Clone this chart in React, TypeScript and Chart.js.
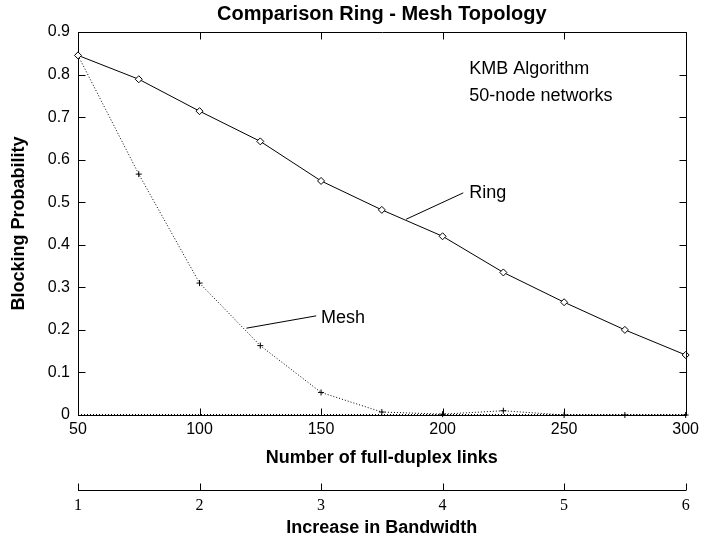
import React, { useEffect, useRef } from 'react';
import { Chart, registerables } from 'chart.js';

Chart.register(...registerables);

// ---- data ----
const links = [50, 75, 100, 125, 150, 175, 200, 225, 250, 275, 300];
const ringValues = [0.845, 0.789, 0.714, 0.643, 0.55, 0.482, 0.42, 0.335, 0.265, 0.2, 0.141];
const meshValues = [0.845, 0.566, 0.31, 0.163, 0.053, 0.007, 0.002, 0.01, 0, 0, 0];
const bandwidthRange = [1, 6];
const linksRange = [50, 300];
const probRange = [0, 0.9];

const titleText = 'Comparison Ring - Mesh Topology';
const xTitle = 'Number of full-duplex links';
const x2Title = 'Increase in Bandwidth';
const yTitle = 'Blocking Probability';
const noteLines = ['KMB Algorithm', '50-node networks'];

// annotation anchors in data units
const notePos = { x: 211, y: [0.813, 0.75] };
const ringLabel = { text: 'Ring', from: [185, 0.46], to: [208.5, 0.522], at: [211, 0.522] };
const meshLabel = { text: 'Mesh', from: [119.3, 0.204], to: [148, 0.233], at: [150, 0.228] };

const SANS = '"Liberation Sans", Arial, Helvetica, sans-serif';
const SERIF = '"Liberation Serif", "Times New Roman", serif';

const framePlugin = {
  id: 'framePlugin',
  afterDraw(chart: any) {
    const { ctx, chartArea } = chart;
    const { left, right, top, bottom } = chartArea;
    const x = chart.scales.x;
    const y = chart.scales.y;
    const x2 = chart.scales.x2;
    const r = (v: number) => Math.round(v) + 0.5;
    const T = 7;
    ctx.save();
    ctx.strokeStyle = '#000';
    ctx.lineWidth = 1;
    ctx.setLineDash([]);
    // frame
    ctx.beginPath();
    ctx.moveTo(r(left), r(top));
    ctx.lineTo(r(right), r(top));
    ctx.lineTo(r(right), r(bottom));
    ctx.stroke();
    // ticks pointing inward
    ctx.beginPath();
    x.ticks.forEach((t: any) => {
      const px = r(x.getPixelForValue(t.value));
      ctx.moveTo(px, r(bottom));
      ctx.lineTo(px, r(bottom) - T);
      ctx.moveTo(px, r(top));
      ctx.lineTo(px, r(top) + T);
    });
    y.ticks.forEach((t: any) => {
      const py = r(y.getPixelForValue(t.value));
      ctx.moveTo(r(left), py);
      ctx.lineTo(r(left) + T, py);
      ctx.moveTo(r(right), py);
      ctx.lineTo(r(right) - T, py);
    });
    x2.ticks.forEach((t: any) => {
      const px = r(x2.getPixelForValue(t.value));
      ctx.moveTo(px, r(x2.top));
      ctx.lineTo(px, r(x2.top) - T);
    });
    ctx.stroke();
    // dotted zero line overlay
    ctx.beginPath();
    ctx.setLineDash([1, 2]);
    const y0 = r(y.getPixelForValue(0)) - 1;
    ctx.moveTo(left, y0);
    ctx.lineTo(right, y0);
    ctx.stroke();
    ctx.setLineDash([]);

    // annotations
    ctx.fillStyle = '#000';
    ctx.font = '18px ' + SANS;
    ctx.textAlign = 'left';
    ctx.textBaseline = 'middle';
    noteLines.forEach((line, i) => {
      ctx.fillText(line, x.getPixelForValue(notePos.x), y.getPixelForValue(notePos.y[i]));
    });
    [ringLabel, meshLabel].forEach((lab) => {
      ctx.beginPath();
      ctx.moveTo(x.getPixelForValue(lab.from[0]), y.getPixelForValue(lab.from[1]));
      ctx.lineTo(x.getPixelForValue(lab.to[0]), y.getPixelForValue(lab.to[1]));
      ctx.stroke();
      ctx.fillText(lab.text, x.getPixelForValue(lab.at[0]), y.getPixelForValue(lab.at[1]));
    });
    ctx.restore();
  },
};

export default function App() {
  const canvasRef = useRef<HTMLCanvasElement | null>(null);

  useEffect(() => {
    document.body.style.margin = '0';
    const canvas = canvasRef.current;
    if (!canvas) return;
    const chart = new Chart(canvas, {
      type: 'line',
      data: {
        datasets: [
          {
            label: 'Ring',
            data: links.map((l, i) => ({ x: l, y: ringValues[i] })),
            borderColor: '#000',
            borderWidth: 1,
            pointStyle: 'rectRot',
            pointRadius: 3.5,
            pointBorderColor: '#000',
            pointBackgroundColor: '#fff',
            pointBorderWidth: 1,
            clip: false as any,
            xAxisID: 'x',
          },
          {
            label: 'Mesh',
            data: links.map((l, i) => ({ x: l, y: meshValues[i] })),
            borderColor: '#000',
            borderWidth: 1,
            borderDash: [1, 2],
            pointStyle: 'cross',
            pointRadius: 3,
            pointBorderColor: '#000',
            pointBorderWidth: 1,
            clip: false as any,
            xAxisID: 'x',
          },
        ],
      },
      options: {
        animation: false,
        responsive: false,
        events: [],
        layout: { padding: { left: 0, right: 16, top: 0, bottom: 0 } },
        plugins: {
          legend: { display: false },
          tooltip: { enabled: false },
          title: {
            display: true,
            text: titleText,
            color: '#000',
            fullSize: false,
            font: { family: SANS, size: 20, weight: 'bold' },
            padding: { top: 2, bottom: 6 },
          },
        },
        scales: {
          x: {
            type: 'linear',
            position: 'bottom',
            min: linksRange[0],
            max: linksRange[1],
            ticks: { stepSize: 50, color: '#000', font: { family: SANS, size: 16 }, padding: 5, maxRotation: 0 },
            grid: { drawOnChartArea: false, drawTicks: false },
            border: { display: true, color: '#000', width: 1 },
            title: {
              display: true,
              text: xTitle,
              color: '#000',
              font: { family: SANS, size: 18, weight: 'bold' },
              padding: { top: 0, bottom: 21.2 },
            },
            afterFit: (s: any) => { s.height = 75; },
          },
          x2: {
            type: 'linear',
            position: 'bottom',
            min: bandwidthRange[0],
            max: bandwidthRange[1],
            ticks: { stepSize: 1, color: '#000', font: { family: SERIF, size: 16 }, padding: 6.4, maxRotation: 0 },
            grid: { drawOnChartArea: false, drawTicks: false },
            border: { display: true, color: '#000', width: 1 },
            title: {
              display: true,
              text: x2Title,
              color: '#000',
              font: { family: SANS, size: 18, weight: 'bold' },
              padding: { top: 0, bottom: 0.2 },
            },
            afterFit: (s: any) => { s.height = 49; },
          },
          y: {
            type: 'linear',
            position: 'left',
            min: probRange[0],
            max: probRange[1],
            ticks: { stepSize: 0.1, color: '#000', font: { family: SANS, size: 16 }, padding: 8 },
            grid: { drawOnChartArea: false, drawTicks: false },
            border: { display: true, color: '#000', width: 1 },
            title: {
              display: true,
              text: yTitle,
              color: '#000',
              font: { family: SANS, size: 18, weight: 'bold' },
              padding: { top: 8.2, bottom: 0 },
            },
            afterFit: (s: any) => { s.width = 78; },
          },
        },
      } as any,
      plugins: [framePlugin],
    });
    return () => chart.destroy();
  }, []);

  return (
    <div style={{ width: 704, height: 539, background: '#fff' }}>
      <canvas ref={canvasRef} width={704} height={539} style={{ display: 'block' }} />
    </div>
  );
}
